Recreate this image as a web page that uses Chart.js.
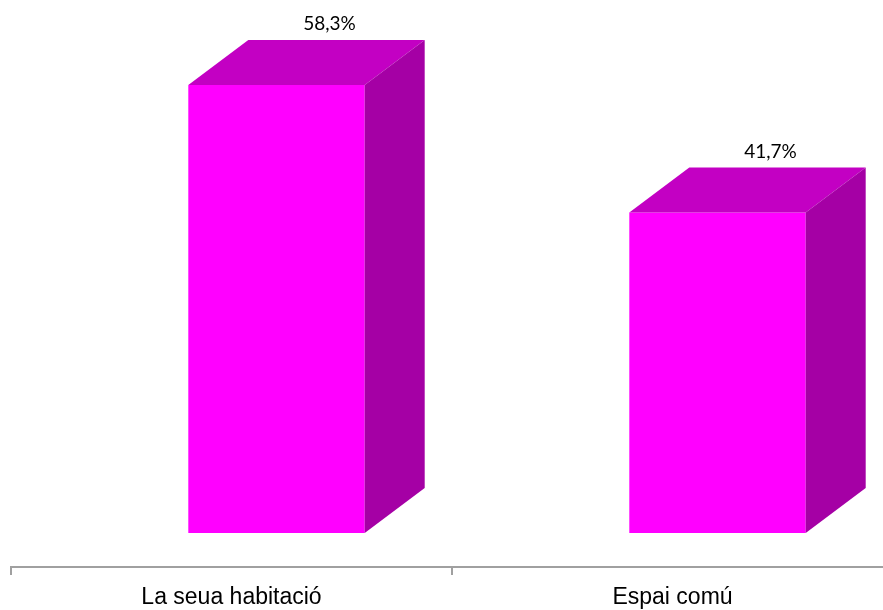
<!DOCTYPE html>
<html>
<head>
<meta charset="utf-8">
<script src="https://cdn.jsdelivr.net/npm/chart.js@4"></script>
<style>
  html, body { margin: 0; padding: 0; background: #fff; overflow: hidden; }
  /* a bit wider than the window: the last category runs past the right edge */
  #wrap { width: 893px; height: 610px; }
</style>
</head>
<body>
<div id="wrap"><canvas id="myChart"></canvas></div>
<script>
'use strict';

// Chart data
let categories = ['La seua habitació', 'Espai comú'];
let percentages = [58.3, 41.7];
let valueLabels = ['58,3%', '41,7%'];

// Look of the fake 3D bars
let frontColor = '#FF00FF';
let topColor = '#C300C3';
let sideColor = '#A500A5';
let depthX = 60;
let depthY = 45;
let shiftX = 45;

// Plugin that draws the top and the side of each bar, plus the value text
let bar3d = {
  id: 'bar3d',
  beforeDatasetsDraw(chart) {
    chart.ctx.save();
    chart.ctx.translate(shiftX, 0);
  },
  afterDatasetsDraw(chart) {
    let ctx = chart.ctx;
    let meta = chart.getDatasetMeta(0);
    for (let i = 0; i < meta.data.length; i++) {
      let bar = meta.data[i].getProps(['x', 'y', 'base', 'width'], true);
      let left = bar.x - bar.width / 2;
      let right = bar.x + bar.width / 2;

      // top face
      ctx.fillStyle = topColor;
      ctx.beginPath();
      ctx.moveTo(left, bar.y);
      ctx.lineTo(left + depthX, bar.y - depthY);
      ctx.lineTo(right + depthX, bar.y - depthY);
      ctx.lineTo(right, bar.y);
      ctx.closePath();
      ctx.fill();

      // side face
      ctx.fillStyle = sideColor;
      ctx.beginPath();
      ctx.moveTo(right, bar.y);
      ctx.lineTo(right + depthX, bar.y - depthY);
      ctx.lineTo(right + depthX, bar.base - depthY);
      ctx.lineTo(right, bar.base);
      ctx.closePath();
      ctx.fill();

      // value label
      ctx.fillStyle = '#000';
      ctx.font = '19px Lato, "Open Sans", sans-serif';
      ctx.textAlign = 'center';
      ctx.textBaseline = 'alphabetic';
      ctx.fillText(valueLabels[i], bar.x + 53, bar.y - depthY - 10);
    }
    ctx.restore();
  }
};

const config = {
  type: 'bar',
  data: {
    labels: categories,
    datasets: [{
      data: percentages,
      backgroundColor: frontColor,
      borderWidth: 0,
      barPercentage: 0.4,
      categoryPercentage: 1.0
    }]
  },
  options: {
    responsive: true,
    maintainAspectRatio: false,
    animation: false,
    layout: { padding: { left: 11, right: 0, top: 0, bottom: -10 } },
    plugins: {
      legend: { display: false },
      tooltip: { enabled: false }
    },
    scales: {
      x: {
        grid: {
          offset: true,
          drawOnChartArea: false,
          drawTicks: true,
          tickLength: 8,
          color: '#A0A0A0',
          lineWidth: 2
        },
        border: { color: '#A0A0A0', width: 2 },
        ticks: {
          color: '#000',
          padding: 8.7,
          maxRotation: 0,
          font: { family: '"Liberation Sans", Arial, sans-serif', size: 23 }
        }
      },
      y: {
        display: false,
        min: -4.425,
        max: 69.36
      }
    }
  },
  plugins: [bar3d]
};

const myChart = new Chart(document.getElementById('myChart'), config);
</script>
</body>
</html>
